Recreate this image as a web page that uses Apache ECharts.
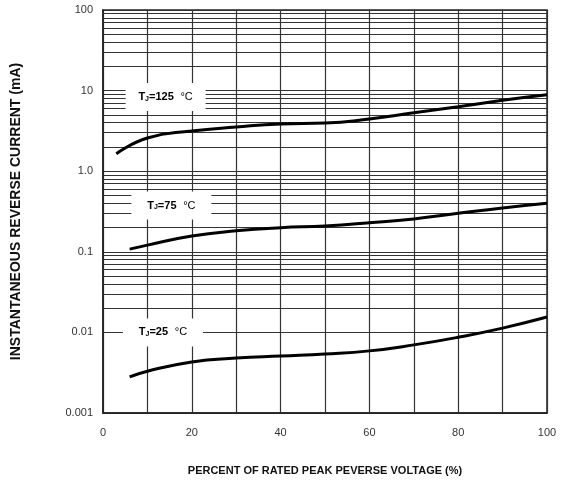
<!DOCTYPE html>
<html>
<head>
    <meta charset="utf-8">
    <title>Reverse current</title>
    <script src="https://cdn.jsdelivr.net/npm/echarts@6/dist/echarts.min.js"></script>
</head>
<body style="margin:0">
<div id="main" style="width: 566px;height:481px;"></div>
<script type="text/javascript">
    // data (x = % of rated voltage, y = mA)
    let voltPct = [3, 10, 20, 30, 40, 50, 60, 70, 80, 90, 100];
    let volt75 = [6, 10, 20, 30, 40, 50, 60, 70, 80, 90, 100];
    let tj125 = [1.65, 2.58, 3.15, 3.53, 3.85, 3.95, 4.45, 5.3, 6.3, 7.6, 8.9];
    let tj75 = [0.108, 0.121, 0.157, 0.182, 0.199, 0.209, 0.229, 0.256, 0.30, 0.35, 0.40];
    let tj25 = [0.0028, 0.0033, 0.0043, 0.0048, 0.0051, 0.0054, 0.0059, 0.0070, 0.0087, 0.0113, 0.0155];
    let yTicks = [0.001, 0.01, 0.1, 1, 10, 100];
    let xTicks = [0, 20, 40, 60, 80, 100];
    // labels for each curve: [text, x, y]
    let curveLabels = [['125', 14.1, 8.3], ['75', 15.4, 0.375], ['25', 13.5, 0.0100]];

    // minor log grid lines 2..9 in every decade
    let minorLines = [];
    for (let d = 0; d < yTicks.length - 1; d++) {
        for (let k = 2; k <= 9; k++) {
            minorLines.push({ yAxis: +(k * yTicks[d]).toPrecision(3) });
        }
    }

    function pairs(xs, ys) {
        return xs.map(function (x, i) { return [x, ys[i]]; });
    }

    function tagPoint(lab) {
        return {
            symbol: 'rect',
            symbolSize: [80, 28],
            silent: true,
            itemStyle: { color: '#fff' },
            label: {
                show: true,
                position: 'inside',
                formatter: '{t|T}{j|J}{t|=' + lab[0] + '}  {d|°C}',
                rich: {
                    t: { fontSize: 11, fontWeight: 'bold', color: '#000', fontFamily: 'Liberation Sans' },
                    j: { fontSize: 7, fontWeight: 'bold', color: '#000', fontFamily: 'Liberation Sans', padding: [4, 0, 0, 0] },
                    d: { fontSize: 11, color: '#000', fontFamily: 'Liberation Sans' }
                }
            },
            data: [{ coord: [lab[1], lab[2]] }]
        };
    }

    let myChart = echarts.init(document.getElementById('main'));

    let curveSeries = [pairs(voltPct, tj125), pairs(volt75, tj75), pairs(volt75, tj25)].map(function (d, i) {
        return {
            type: 'line',
            smooth: true,
            showSymbol: false,
            z: 5,
            lineStyle: { color: '#000', width: 3 },
            data: d,
            markPoint: tagPoint(curveLabels[i])
        };
    });

    myChart.setOption({
        animation: false,
        grid: {
            left: 103, right: 19, top: 10, bottom: 68,
            show: true, borderColor: '#222', borderWidth: 1.5
        },
        xAxis: {
            type: 'value',
            min: 0, max: 100, interval: 10,
            name: 'PERCENT OF RATED PEAK PEVERSE VOLTAGE (%)',
            nameLocation: 'middle',
            nameGap: 52,
            nameTextStyle: { fontSize: 11, fontWeight: 'bold', color: '#111', fontFamily: 'Liberation Sans' },
            axisLine: { lineStyle: { color: '#222', width: 1.5 } },
            axisTick: { show: false },
            axisLabel: {
                fontSize: 11, color: '#333', fontFamily: 'Liberation Sans', margin: 14,
                formatter: function (v) { return xTicks.indexOf(v) >= 0 ? v : ''; }
            },
            splitLine: { show: true, lineStyle: { color: '#333', width: 1.2 } }
        },
        yAxis: {
            type: 'log',
            logBase: 10,
            min: 0.001, max: 100,
            name: 'INSTANTANEOUS REVERSE CURRENT (mA)',
            nameLocation: 'middle',
            nameRotate: 90,
            nameGap: 80,
            nameTextStyle: { fontSize: 14, fontWeight: 'bold', color: '#111', fontFamily: 'Liberation Sans' },
            axisLine: { show: true, lineStyle: { color: '#222', width: 1.5 } },
            axisTick: { show: false },
            axisLabel: {
                fontSize: 11, color: '#333', fontFamily: 'Liberation Sans', margin: 10,
                formatter: function (v) { return v === 1 ? '1.0' : String(+v.toPrecision(3)); }
            },
            splitLine: { show: true, lineStyle: { color: '#333', width: 1.2 } }
        },
        series: [{
            type: 'line',
            data: [],
            z: 1,
            markLine: {
                silent: true,
                symbol: ['none', 'none'],
                label: { show: false },
                lineStyle: { color: '#333', type: 'solid', width: 1.2 },
                data: minorLines
            }
        }].concat(curveSeries)
    });
</script>
</body>
</html>
